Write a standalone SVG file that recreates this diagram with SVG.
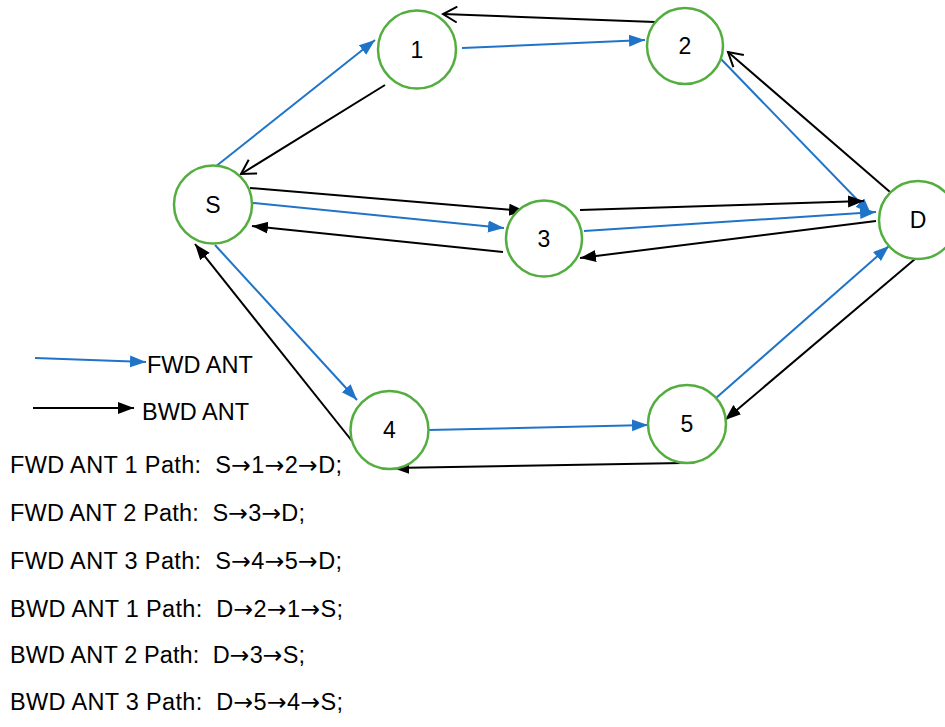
<svg xmlns="http://www.w3.org/2000/svg" width="945" height="727" viewBox="0 0 945 727">
<defs>
<style>
.node circle{fill:#fff;stroke:#54AE3F;stroke-width:2.5}
.node text{font-family:"Liberation Sans",Arial,sans-serif;font-size:23px;text-anchor:middle;fill:#000}
.fwd{stroke:#1F74C8;stroke-width:2;fill:none;marker-end:url(#af)}
.bwd{stroke:#000;stroke-width:2;fill:none;marker-end:url(#ab)}
.bwo{stroke:#000;stroke-width:2;fill:none;marker-end:url(#ao)}
.lbl{font-family:"Liberation Sans",Arial,sans-serif;font-size:23.5px;fill:#000;white-space:pre}
.ar{font-family:"DejaVu Sans",sans-serif}
</style>
<marker id="af" markerUnits="userSpaceOnUse" markerWidth="18" markerHeight="14" refX="16" refY="6" orient="auto"><path d="M0,0 L16,6 L0,12 z" fill="#1F74C8"/></marker>
<marker id="ab" markerUnits="userSpaceOnUse" markerWidth="18" markerHeight="14" refX="16" refY="6" orient="auto"><path d="M0,0 L16,6 L0,12 z" fill="#000"/></marker>
<marker id="ao" markerUnits="userSpaceOnUse" markerWidth="20" markerHeight="20" refX="15" refY="9" orient="auto"><path d="M1,1 L15,9 L1,17" fill="none" stroke="#000" stroke-width="2"/></marker>
</defs>
<g id="connectors">
<line class="fwd" x1="215" y1="167" x2="375" y2="40"/>
<line class="bwo" x1="385" y1="85" x2="241" y2="174"/>
<line class="bwo" x1="655" y1="22" x2="443" y2="14"/>
<line class="fwd" x1="462" y1="48" x2="645" y2="40"/>
<line class="fwd" x1="720" y1="58" x2="871" y2="214"/>
<line class="bwo" x1="890" y1="192" x2="728" y2="52"/>
<line class="bwd" x1="250" y1="188" x2="525" y2="211"/>
<line class="fwd" x1="253" y1="203" x2="504" y2="228"/>
<line class="bwd" x1="503" y1="252" x2="252" y2="226"/>
<line class="bwd" x1="580" y1="210" x2="864" y2="201"/>
<line class="fwd" x1="584" y1="231" x2="876" y2="212"/>
<line class="bwd" x1="876" y1="221" x2="580" y2="258"/>
<line class="fwd" x1="215" y1="245" x2="357" y2="400"/>
<line class="bwd" x1="356" y1="446" x2="195" y2="244"/>
<line class="fwd" x1="428" y1="430" x2="648" y2="425"/>
<line class="bwd" x1="683" y1="463" x2="393" y2="468"/>
<line class="fwd" x1="716" y1="398" x2="889" y2="246"/>
<line class="bwd" x1="915" y1="259" x2="725" y2="420"/>
</g>
<g id="node-1" class="node"><circle cx="417" cy="49.5" r="39"/><text x="417" y="58">1</text></g>
<g id="node-2" class="node"><circle cx="685" cy="46" r="38"/><text x="685" y="54">2</text></g>
<g id="node-S" class="node"><circle cx="213" cy="204.5" r="39"/><text x="213" y="213">S</text></g>
<g id="node-3" class="node"><circle cx="544" cy="238.5" r="38"/><text x="544" y="247">3</text></g>
<g id="node-D" class="node"><circle cx="918" cy="220" r="39"/><text x="918" y="228">D</text></g>
<g id="node-4" class="node"><circle cx="389.5" cy="430" r="39"/><text x="389.5" y="438">4</text></g>
<g id="node-5" class="node"><circle cx="687" cy="424" r="39"/><text x="687" y="432">5</text></g>
<g id="legend">
<line class="fwd" x1="35" y1="358" x2="146" y2="362"/>
<text class="lbl" x="147" y="373">FWD ANT</text>
<line class="bwd" x1="33" y1="408" x2="134" y2="408"/>
<text class="lbl" x="142" y="420">BWD ANT</text>
</g>
<g id="paths">
<text class="lbl" x="10" y="473" textLength="332" lengthAdjust="spacing">FWD ANT 1 Path:  S<tspan class="ar">→</tspan>1<tspan class="ar">→</tspan>2<tspan class="ar">→</tspan>D;</text>
<text class="lbl" x="10" y="521" textLength="295" lengthAdjust="spacing">FWD ANT 2 Path:  S<tspan class="ar">→</tspan>3<tspan class="ar">→</tspan>D;</text>
<text class="lbl" x="10" y="569" textLength="332" lengthAdjust="spacing">FWD ANT 3 Path:  S<tspan class="ar">→</tspan>4<tspan class="ar">→</tspan>5<tspan class="ar">→</tspan>D;</text>
<text class="lbl" x="10" y="617" textLength="333" lengthAdjust="spacing">BWD ANT 1 Path:  D<tspan class="ar">→</tspan>2<tspan class="ar">→</tspan>1<tspan class="ar">→</tspan>S;</text>
<text class="lbl" x="10" y="663" textLength="295" lengthAdjust="spacing">BWD ANT 2 Path:  D<tspan class="ar">→</tspan>3<tspan class="ar">→</tspan>S;</text>
<text class="lbl" x="10" y="710" textLength="333" lengthAdjust="spacing">BWD ANT 3 Path:  D<tspan class="ar">→</tspan>5<tspan class="ar">→</tspan>4<tspan class="ar">→</tspan>S;</text>
</g>
</svg>
